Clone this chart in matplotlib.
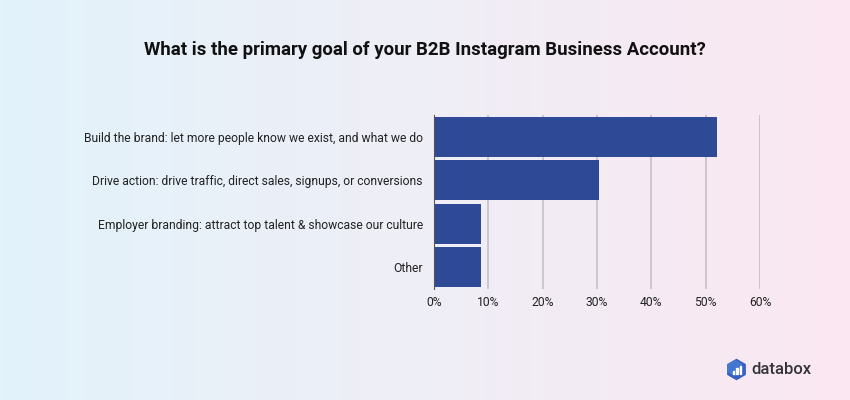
import numpy as np
import matplotlib.pyplot as plt
from matplotlib.patches import RegularPolygon, Rectangle
from matplotlib.colors import LinearSegmentedColormap

plt.rcParams['font.family'] = ['Roboto', 'DejaVu Sans']

categories = [
    "Build the brand: let more people know we exist, and what we do",
    "Drive action: drive traffic, direct sales, signups, or conversions",
    "Employer branding: attract top talent & showcase our culture",
    "Other",
]
values = [52.1, 30.4, 8.7, 8.7]
ticks = [0, 10, 20, 30, 40, 50, 60]

title = "What is the primary goal of your B2B Instagram Business Account?"
bar_color = "#2e4a96"

fig = plt.figure(figsize=(8.5, 4), dpi=100)

# gradient background
bg = fig.add_axes([0, 0, 1, 1], zorder=-10)
cmap = LinearSegmentedColormap.from_list("bg", ["#e2f3fb", "#efeef6", "#fbe7f1"])
bg.imshow(np.linspace(0, 1, 256).reshape(1, -1), aspect="auto", cmap=cmap,
          extent=[0, 1, 0, 1])
bg.axis("off")

ax = fig.add_axes([434 / 850, 1 - 289 / 400, 326 / 850, 174 / 400])
ax.patch.set_alpha(0)
y = np.arange(len(categories))
ax.barh(y, values, height=0.92, color=bar_color, zorder=3)
ax.set_ylim(len(categories) - 0.5, -0.5)
ax.set_xlim(0, 60)
ax.set_yticks(y)
ax.set_yticklabels(categories, fontsize=8.7, color="#222222")
ax.set_xticks(ticks)
ax.set_xticklabels([f"{t}%" for t in ticks], fontsize=8.7, color="#222222")
ax.tick_params(axis="x", length=0, pad=5)
ax.tick_params(axis="y", length=0, pad=8)
ax.grid(axis="x", color="#c9c2cb", linewidth=1.3, zorder=0)
for s in ["top", "right", "bottom"]:
    ax.spines[s].set_visible(False)
ax.spines["left"].set_color("#555555")
ax.spines["left"].set_zorder(4)

fig.text(0.5, 1 - 50 / 400, title, ha="center", va="center",
         fontsize=13.4, fontweight="bold", color="#111111")

# databox logo
lax = fig.add_axes([725 / 850, 1 - 381 / 400, 23 / 850, 23 / 400])
lax.set_xlim(-1.15, 1.15)
lax.set_ylim(-1.15, 1.15)
lax.axis("off")
lax.add_patch(RegularPolygon((0, 0), numVertices=6, radius=1.0,
                             orientation=0, color="#3560c2"))
lax.add_patch(RegularPolygon((-0.15, 0.15), numVertices=6, radius=0.75,
                             orientation=0, color="#4d86dc", alpha=0.6))
for bx, bh in [(-0.4, 0.35), (-0.05, 0.6), (0.3, 0.85)]:
    lax.add_patch(Rectangle((bx, -0.45), 0.16, bh, color="white"))
fig.text(751 / 850, 1 - 369 / 400, "databox", ha="left", va="center",
         fontsize=12, fontweight="medium", color="#333338")

fig.savefig("out.png", dpi=100)
